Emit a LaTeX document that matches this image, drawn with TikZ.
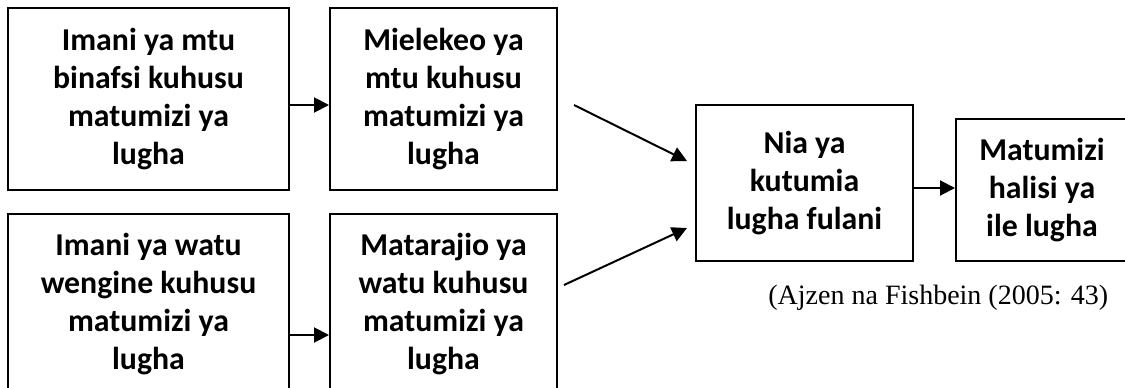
\documentclass[tikz,border=0pt]{standalone}
\usepackage{fontspec}
\setmainfont{Carlito}
\newfontfamily\tnr{Liberation Serif}
\usetikzlibrary{arrows.meta}
\tikzset{
  box/.style={draw=black, line width=1pt, rectangle, inner sep=0pt, align=center,
    font=\fontsize{15.9pt}{19pt}\selectfont\bfseries},
  arr/.style={draw=black, line width=1pt, -{Triangle[length=7.5pt,width=7.5pt]}},
  citetext/.style={inner sep=0pt, font=\tnr\fontsize{14pt}{16pt}\selectfont}
}
\begin{document}
\begin{tikzpicture}[x=0.5pt,y=-0.5pt]
\useasboundingbox (0,0) rectangle (1125,387);
\clip (0,0) rectangle (1125,387);
\node[box, minimum width=140.5pt, minimum height=91pt] (A) at (148.5,99) {Imani ya mtu\\binafsi kuhusu\\matumizi ya\\lugha};
\node[box, minimum width=113.5pt, minimum height=91pt] (B) at (443.5,99) {Mielekeo ya\\mtu kuhusu\\matumizi ya\\lugha};
\node[box, minimum width=140.5pt, minimum height=90pt] (C) at (148.5,304) {Imani ya watu\\wengine kuhusu\\matumizi ya\\lugha};
\node[box, minimum width=113.5pt, minimum height=90pt] (D) at (443.5,304) {Matarajio ya\\watu kuhusu\\matumizi ya\\lugha};
\node[box, minimum width=108.5pt, minimum height=78pt] (E) at (804.5,183) {Nia ya\\kutumia\\lugha fulani};
\node[box, minimum width=86pt, minimum height=71pt] (F) at (1042,190) {Matumizi\\halisi ya\\ile lugha};
\node[citetext, anchor=west] (cite) at (768,298) {(Ajzen na Fishbein (2005: 43)};
\coordinate (b1) at (574,105);
\coordinate (e1) at (687,161);
\coordinate (d1) at (564,285);
\coordinate (e2) at (687,228);
\coordinate (ef) at ([yshift=-2.5pt]E.east);
\draw[arr] ([yshift=-3pt]A.east) -- ([yshift=-3pt]B.west);
\draw[arr] ([yshift=-15.5pt]C.east) -- ([yshift=-15.5pt]D.west);
\draw[arr] (b1) -- (e1);
\draw[arr] (d1) -- (e2);
\draw[arr] (ef) -- (F.west |- ef);
\end{tikzpicture}
\end{document}
